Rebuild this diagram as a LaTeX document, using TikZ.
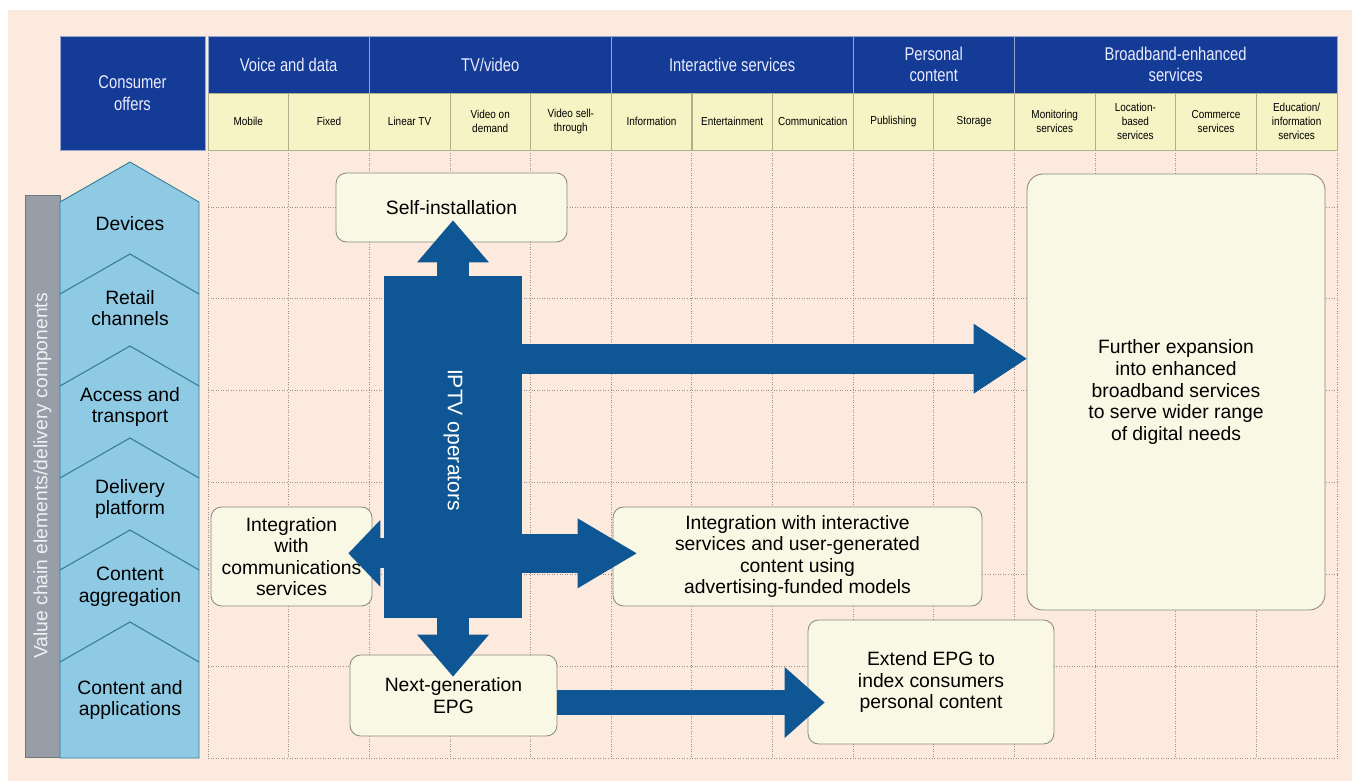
\documentclass[tikz,border=0pt]{standalone}
\usepackage{fontspec}
\setmainfont{Liberation Sans}
\newfontfamily\condfont[FakeStretch=0.8]{Liberation Sans}
\newfontfamily\subfont[FakeStretch=0.86]{Liberation Sans}
\usetikzlibrary{arrows.meta,positioning,calc}

\definecolor{hdrblue}{RGB}{20,60,150}
\definecolor{subyellow}{RGB}{246,244,196}
\definecolor{subline}{RGB}{175,175,140}
\definecolor{boxfill}{RGB}{249,248,228}
\definecolor{boxline}{RGB}{140,140,130}
\definecolor{arrowblue}{RGB}{14,86,148}
\definecolor{chevblue}{RGB}{143,202,228}
\definecolor{chevline}{RGB}{50,125,145}
\definecolor{bargray}{RGB}{152,158,168}
\definecolor{bgpeach}{RGB}{252,234,222}
\definecolor{gridgray}{RGB}{150,145,140}

\begin{document}
\begin{tikzpicture}[
  x=0.02cm,y=-0.02cm,
  hdr/.style={fill=hdrblue,draw=white!55!hdrblue,line width=0.4pt,text=white!92!blue,align=center,
    font=\condfont\fontsize{10.5}{12.3}\selectfont,minimum height=1.14cm,inner sep=1pt},
  sub/.style={fill=subyellow,draw=subline,line width=0.4pt,align=center,
    font=\subfont\fontsize{6.6}{8}\selectfont,minimum width=1.6128cm,minimum height=1.14cm,inner sep=1pt},
  stage/.style={align=center,font=\fontsize{11}{12.3}\selectfont},
  idea/.style={draw=boxline,fill=boxfill,line width=0.5pt,rounded corners=6pt,align=center,
    font=\fontsize{11}{12.3}\selectfont,inner sep=2pt},
  vbar/.style={fill=bargray,draw=bargray!75!black,line width=0.4pt,text=white!85!bargray,
    font=\fontsize{11}{12}\selectfont,inner sep=0pt},
  op/.style={fill=arrowblue,minimum width=2.76cm,minimum height=6.84cm,inner sep=0pt},
  gridline/.style={draw=gridgray,densely dotted,line width=0.45pt},
  fat/.style={draw=arrowblue,line width=#1},
  head/.style 2 args={arrows={-{Triangle[length=#1,width=#2,line width=0pt]}}}
]
\useasboundingbox (0,0) rectangle (1365,781);
\fill[white] (0,0) rectangle (1365,781);
\fill[bgpeach] (8,10) rectangle (1352,781);

% grid
\foreach \i in {0,...,14}
  \draw[gridline] ({208+80.64*\i},150) -- ({208+80.64*\i},758);
\foreach \j in {0,...,6}
  \draw[gridline] (208,{207+91.83*\j}) -- (1337,{207+91.83*\j});

% header
\node[hdr,minimum width=2.9cm,minimum height=2.28cm] (offers) at (132.5,93) {Consumer\\offers};
\node[hdr,minimum width=3.2256cm] (voice) at (288.64,64.5) {Voice and data};
\node[hdr,minimum width=4.8384cm] (tvvid) at (490.24,64.5) {TV/video};
\node[hdr,minimum width=4.8384cm] (intsvc) at (732.16,64.5) {Interactive services};
\node[hdr,minimum width=3.2256cm] (perscont) at (933.76,64.5) {Personal\\content};
\node[hdr,minimum width=6.4512cm] (bband) at (1175.68,64.5) {Broadband-enhanced\\services};
\foreach \lab [count=\i from 0] in {Mobile,Fixed,Linear TV,{Video on\\demand},{Video sell-\\through},
    Information,Entertainment,Communication,Publishing,Storage,{Monitoring\\services},
    {Location-\\based\\services},{Commerce\\services},{Education/\\information\\services}}
  \node[sub] (sub\i) at ({248.32+80.64*\i},121.5) {\lab};

% value chain
\node[vbar,rotate=90,minimum width=11.24cm,minimum height=0.7cm] (vchain) at (42.5,476)
  {Value chain elements/delivery components};
\draw[fill=chevblue,draw=chevline,line width=0.5pt]
  (60,202) -- (130,162) -- (199,202) -- (199,758) -- (60,758) -- cycle;
\foreach \y in {294,386,478,570,662}
  \draw[chevline,line width=0.6pt] (60,\y) -- (130,{\y-40}) -- (199,\y);
\node[stage] (dev) at (130,224) {Devices};
\node[stage] (ret) at (130,308) {Retail\\channels};
\node[stage] (acc) at (130,407) {Access and\\transport};
\node[stage] (del) at (130,499) {Delivery\\platform};
\node[stage] (agg) at (130,587) {Content\\aggregation};
\node[stage] (app) at (130,700) {Content and\\applications};

% outcomes
\node[idea,minimum width=4.62cm,minimum height=1.38cm] (selfinst) at (451.5,207.5) {Self-installation};
\node[idea,minimum width=3.22cm,minimum height=1.98cm] (comms) at (291.5,556.5)
  {Integration\\with\\communications\\services};
\node[idea,minimum width=4.14cm,minimum height=1.62cm] (epg) at (453.5,695.5) {Next-generation\\EPG};
\node[idea,minimum width=7.38cm,minimum height=1.98cm] (inter) at (797.5,556.5)
  {Integration with interactive\\services and user-generated\\content using\\advertising-funded models};
\node[idea,minimum width=4.92cm,minimum height=2.48cm] (extend) at (931,682)
  {Extend EPG to\\index consumers\\personal content};
\node[idea,rounded corners=9pt,minimum width=5.96cm,minimum height=8.72cm] (further) at (1176,392)
  {Further expansion\\into enhanced\\broadband services\\to serve wider range\\of digital needs};

% IPTV operators and its arrows
\node[op] (iptv) at (453,447) {};
\coordinate (rb) at ($(iptv.north east)+(0,83)$);
\coordinate (mid) at ($(iptv.south east)+(0,-65)$);
\coordinate (ep) at ($(epg.east)+(0,7)$);
\draw[fat=0.64cm,head={0.84cm}{1.44cm}] (iptv.north) -- ($(iptv.north |- selfinst.south)+(0,-22)$);
\draw[fat=0.64cm,head={0.84cm}{1.44cm}] (iptv.south) -- ($(iptv.south |- epg.north)+(0,22)$);
\draw[fat=0.6cm,head={1.06cm}{1.4cm}] (rb) -- (further.west |- rb);
\draw[fat=0.6cm,head={0.64cm}{1.34cm}] (iptv.west |- mid) -- ($(comms.east |- mid)+(-24,0)$);
\draw[fat=0.78cm,head={1.18cm}{1.4cm}] (mid) -- ($(inter.west |- mid)+(24,0)$);
\draw[fat=0.5cm,head={0.8cm}{1.42cm}] (ep) -- ($(extend.west |- ep)+(17,0)$);
\node[op] at (iptv.center) {};
\node[rotate=-90,text=white,font=\fontsize{12}{14}\selectfont] (iptvlbl) at ($(iptv.center)+(0,-7)$) {IPTV operators};
\end{tikzpicture}
\end{document}
